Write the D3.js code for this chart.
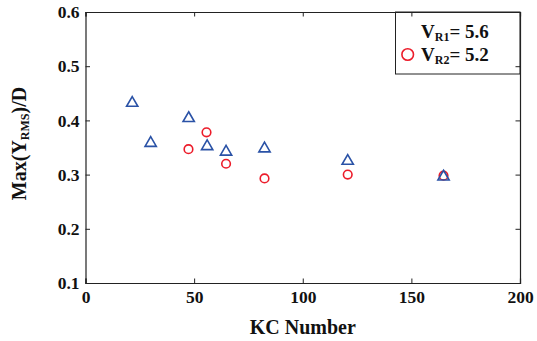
<!DOCTYPE html>
<html>
<head>
<meta charset="utf-8">
<script src="https://cdn.jsdelivr.net/npm/d3@7"></script>
<style>
  html, body { margin: 0; padding: 0; background: #fff; }
  svg { display: block; }
  text { font-family: "Liberation Serif", "Times New Roman", serif; font-weight: bold; fill: #111; }
</style>
</head>
<body>
<svg id="chart" width="537" height="341"></svg>
<script>
// KC number and Max(Y_RMS)/D for the two reduced velocities
const kcR1 = [21.5, 30, 47.5, 56, 64.7, 82.4, 120.7, 164.8];
const valR1 = [0.432, 0.358, 0.404, 0.352, 0.342, 0.348, 0.325, 0.296];
const kcR2 = [47.4, 55.7, 64.7, 82.4, 120.7, 164.8];
const valR2 = [0.347, 0.378, 0.320, 0.293, 0.300, 0.298];

const xTicks = [0, 50, 100, 150, 200];
const yTicks = [0.1, 0.2, 0.3, 0.4, 0.5, 0.6];
const legendLabels = [{ sub: "R1", val: "= 5.6" }, { sub: "R2", val: "= 5.2" }];

const blue = "#2a52a6";
const red = "#ec1c2a";

const margin = { left: 85.5, right: 17, top: 12, bottom: 58 };
const W = 537, H = 341;
const svg = d3.select("#chart");

const x = d3.scaleLinear().domain([0, 200]).range([margin.left, W - margin.right]);
const y = d3.scaleLinear().domain([0.1, 0.6]).range([H - margin.bottom, margin.top]);

// Markers: circles underneath, triangles on top
svg.append("g").selectAll("circle")
  .data(kcR2.map((k, i) => [k, valR2[i]]))
  .join("circle")
  .attr("cx", d => x(d[0]))
  .attr("cy", d => y(d[1]))
  .attr("r", 4.3)
  .attr("fill", "none")
  .attr("stroke", red)
  .attr("stroke-width", 1.6);

const tri = d3.symbol().type(d3.symbolTriangle).size(55);
svg.append("g").selectAll("path")
  .data(kcR1.map((k, i) => [k, valR1[i]]))
  .join("path")
  .attr("d", tri)
  .attr("transform", d => `translate(${x(d[0])},${y(d[1])})`)
  .attr("fill", "none")
  .attr("stroke", blue)
  .attr("stroke-width", 1.6);

// Legend box
const lg = svg.append("g");
lg.append("rect")
  .attr("x", 395.5).attr("y", margin.top)
  .attr("width", x(200) - 395.5).attr("height", 62)
  .attr("fill", "#fff").attr("stroke", "#222").attr("stroke-width", 1);
lg.append("circle")
  .attr("cx", 407.7).attr("cy", 54.5).attr("r", 5.8)
  .attr("fill", "none").attr("stroke", red).attr("stroke-width", 1.6);
legendLabels.forEach((l, i) => {
  const t = lg.append("text")
    .attr("x", 421).attr("y", 38 + i * 22.5)
    .attr("font-size", 19);
  t.append("tspan").text("V");
  t.append("tspan").attr("font-size", 12).attr("dy", 3).text(l.sub);
  t.append("tspan").attr("dy", -3).text(l.val);
});

// Axes with inward ticks, mirrored on top and right
const tickLen = 4.5;
const axisColor = "#222";
const gAx = svg.append("g");

const xb = gAx.append("g").attr("transform", `translate(0,${y(0.1)})`)
  .call(d3.axisBottom(x).tickValues(xTicks).tickSize(-tickLen).tickPadding(7).tickFormat(d3.format("d")));
const xt = gAx.append("g").attr("transform", `translate(0,${y(0.6)})`)
  .call(d3.axisTop(x).tickValues(xTicks).tickSize(-tickLen).tickFormat(""));
const yl = gAx.append("g").attr("transform", `translate(${x(0)},0)`)
  .call(d3.axisLeft(y).tickValues(yTicks).tickSize(-tickLen).tickPadding(6).tickFormat(d3.format(".1f")));
const yr = gAx.append("g").attr("transform", `translate(${x(200)},0)`)
  .call(d3.axisRight(y).tickValues(yTicks).tickSize(-tickLen).tickFormat(""));

[xb, xt, yl, yr].forEach(g => {
  g.select(".domain").attr("stroke", axisColor).attr("stroke-width", 1.2);
  g.selectAll(".tick line").attr("stroke", axisColor).attr("stroke-width", 1);
  g.selectAll(".tick text")
    .attr("font-family", "'Liberation Serif', 'Times New Roman', serif")
    .attr("font-weight", "bold")
    .attr("font-size", 17.5)
    .attr("fill", "#111");
});
xb.selectAll(".tick text").attr("dy", "0.72em");

// Axis titles
svg.append("text")
  .attr("x", (x(0) + x(200)) / 2).attr("y", 334)
  .attr("text-anchor", "middle").attr("font-size", 20)
  .text("KC Number");

const yt = svg.append("text")
  .attr("transform", `translate(26,${(y(0.1) + y(0.6)) / 2 - 4}) rotate(-90)`)
  .attr("text-anchor", "middle").attr("font-size", 20);
yt.append("tspan").text("Max(Y");
yt.append("tspan").attr("font-size", 12).attr("dy", 3).text("RMS");
yt.append("tspan").attr("dy", -3).text(")/D");
</script>
</body>
</html>
